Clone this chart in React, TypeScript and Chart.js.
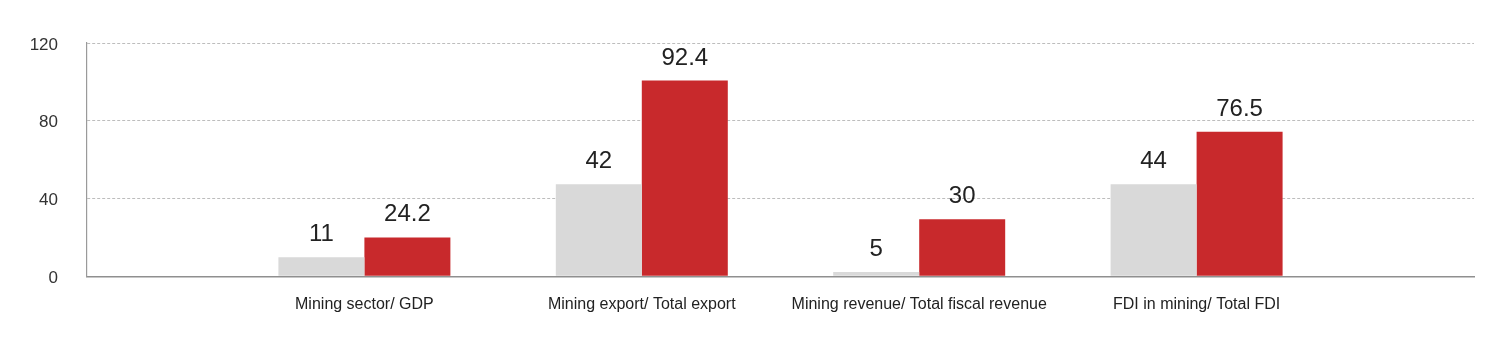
import React, { useEffect, useRef } from "react";
import { Chart, registerables } from "chart.js";

Chart.register(...registerables);

const categories = [
  "",
  "Mining sector/ GDP",
  "Mining export/ Total export",
  "Mining revenue/ Total fiscal revenue",
  "FDI in mining/ Total FDI",
  "",
];
const grayValues = [null, 9.8, 47.3, 2.2, 47.4, null];
const redValues = [null, 20.0, 100.7, 29.3, 74.3, null];
const grayLabels = ["", "11", "42", "5", "44", ""];
const redLabels = ["", "24.2", "92.4", "30", "76.5", ""];
const yTicks = [0, 40, 80, 120];

const FONT = "'Liberation Sans', Arial, Helvetica, sans-serif";

const valueLabelPlugin = {
  id: "valueLabels",
  afterDatasetsDraw(chart: any) {
    const ctx = chart.ctx;
    const all = [grayLabels, redLabels];
    ctx.save();
    ctx.font = `24px ${FONT}`;
    ctx.fillStyle = "#222222";
    ctx.textAlign = "center";
    ctx.textBaseline = "alphabetic";
    chart.data.datasets.forEach((_: any, di: number) => {
      const meta = chart.getDatasetMeta(di);
      meta.data.forEach((bar: any, i: number) => {
        const txt = all[di][i];
        if (!txt || bar.skip) return;
        ctx.fillText(txt, bar.x, bar.y - 16);
      });
    });
    ctx.restore();
  },
};

export default function App() {
  const ref = useRef<HTMLCanvasElement | null>(null);

  useEffect(() => {
    if (!ref.current) return;
    const chart = new Chart(ref.current, {
      type: "bar",
      data: {
        labels: categories,
        datasets: [
          {
            data: grayValues as any,
            backgroundColor: "#d9d9d9",
            borderWidth: 0,
            categoryPercentage: 0.62,
            barPercentage: 1,
          },
          {
            data: redValues as any,
            backgroundColor: "#c8292c",
            borderWidth: 0,
            categoryPercentage: 0.62,
            barPercentage: 1,
          },
        ],
      },
      options: {
        animation: false,
        responsive: true,
        maintainAspectRatio: false,
        layout: { padding: { top: 35, right: 18, left: 0, bottom: 0 } },
        plugins: {
          legend: { display: false },
          tooltip: { enabled: false },
        },
        scales: {
          x: {
            offset: false,
            grid: { display: false, drawTicks: false },
            border: { display: true, color: "#8f8f8f", width: 1.5 },
            ticks: {
              autoSkip: false,
              maxRotation: 0,
              padding: 19,
              color: "#222222",
              font: { family: FONT, size: 16 },
            },
            afterFit: (s: any) => {
              s.height = 57.7;
              s.paddingLeft = 0;
              s.paddingRight = 0;
            },
          },
          y: {
            min: 0,
            max: 120,
            afterBuildTicks: (s: any) => {
              s.ticks = yTicks.map((v) => ({ value: v }));
            },
            grid: {
              drawTicks: false,
              color: (c: any) => (c.tick && c.tick.value === 0 ? "rgba(0,0,0,0)" : "#bdbdbd"),
              lineWidth: 1,
            },
            border: { display: true, color: "#9a9a9a", width: 1.2, dash: [3, 2] },
            ticks: {
              padding: 29,
              labelOffset: 2,
              color: "#333333",
              font: { family: FONT, size: 17 },
            },
            afterFit: (s: any) => {
              s.width = 79;
              s.paddingTop = 0;
              s.paddingBottom = 0;
            },
          },
        },
      },
      plugins: [valueLabelPlugin],
    });
    return () => chart.destroy();
  }, []);

  return (
    <div style={{ position: "relative", width: "1484px", height: "326px" }}>
      <canvas ref={ref} />
    </div>
  );
}
